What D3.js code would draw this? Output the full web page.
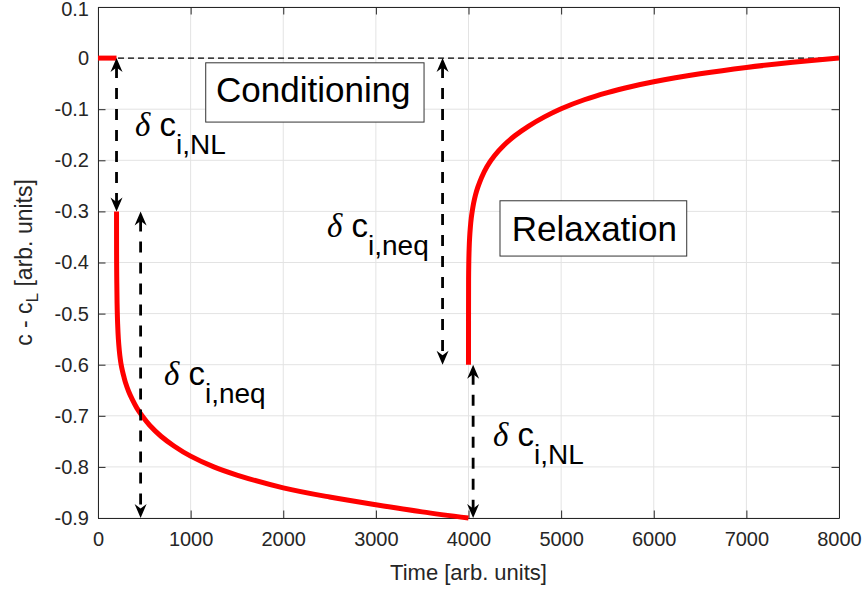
<!DOCTYPE html>
<html><head><meta charset="utf-8">
<script src="https://cdn.jsdelivr.net/npm/d3@7"></script>
<style>body{margin:0;background:#fff}svg{display:block}</style>
</head><body>
<svg id="c" width="865" height="597"></svg>
<script>
// ---- data ----
const xTicks = [0,1000,2000,3000,4000,5000,6000,7000,8000];
const yTicks = [0.1,0,-0.1,-0.2,-0.3,-0.4,-0.5,-0.6,-0.7,-0.8,-0.9];
const yTickLabels = ["0.1","0","-0.1","-0.2","-0.3","-0.4","-0.5","-0.6","-0.7","-0.8","-0.9"];
const baseT = [0,200];
const baseC = [0,0];
const condT = [200,201,203,206,212,220,230,240,250,265,280,300,330,370,420,480,560,680,820,1000,1250,1500,2000,2500,3000,3500,4000];
const condC = [-0.30,-0.40,-0.44,-0.48,-0.52,-0.55,-0.572,-0.588,-0.60,-0.613,-0.624,-0.637,-0.652,-0.668,-0.685,-0.701,-0.719,-0.740,-0.759,-0.779,-0.800,-0.816,-0.841,-0.859,-0.874,-0.888,-0.90];
const relaxT = [4000,4001,4002,4004,4007,4012,4020,4030,4040,4055,4075,4100,4140,4200,4280,4380,4500,4650,4820,5000,5250,5500,5750,6000,6500,7000,7500,8000];
const relaxC = [-0.60,-0.433,-0.414,-0.392,-0.373,-0.352,-0.331,-0.313,-0.30,-0.284,-0.268,-0.253,-0.234,-0.212,-0.191,-0.171,-0.152,-0.133,-0.115,-0.099,-0.0815,-0.0675,-0.056,-0.0463,-0.0308,-0.0183,-0.0083,0.0];
// arrows: [t, from, to]
const arrowT = [200, 460, 3720, 4050];
const arrowFrom = [0, -0.3, 0, -0.6];
const arrowTo = [-0.3, -0.9, -0.6, -0.9];
// delta labels
const deltaSub = ["i,NL","i,neq","i,neq","i,NL"];
const deltaT = [399, 712, 2472, 4265];
const deltaC = [-0.1526, -0.6398, -0.3502, -0.7591];
const boxText = ["Conditioning","Relaxation"];
const boxT = [1274, 4466];
const boxC = [-0.0855, -0.3575];
const boxT0 = [1163, 4340], boxT1 = [3520, 6356];
const boxC0 = [-0.0092, -0.2792], boxC1 = [-0.1252, -0.3874];

// ---- layout ----
const M = {l:98, r:839, t:7, b:518};
const svg = d3.select("#c");
const x = d3.scaleLinear().domain([0,8000]).range([M.l, M.r]);
const y = d3.scaleLinear().domain([-0.9,0.1]).range([M.b, M.t]);
const axisCol = "#262626";
const sans = "'Liberation Sans', Arial, Helvetica, sans-serif";

// grid
const g = svg.append("g");
g.selectAll(".gx").data(xTicks).join("line")
  .attr("x1", d=>x(d)).attr("x2", d=>x(d)).attr("y1", M.t).attr("y2", M.b)
  .attr("stroke", "#e3e3e3").attr("stroke-width", 1);
g.selectAll(".gy").data(yTicks).join("line")
  .attr("x1", M.l).attr("x2", M.r).attr("y1", d=>y(d)).attr("y2", d=>y(d))
  .attr("stroke", "#e3e3e3").attr("stroke-width", 1);

// axes via d3 axis
const tl = 7.5;
const ax = svg.append("g").attr("transform", `translate(0,${M.b})`)
  .call(d3.axisBottom(x).tickValues(xTicks).tickSizeInner(-tl).tickSizeOuter(0).tickPadding(14).tickFormat(d3.format("d")));
const axT = svg.append("g").attr("transform", `translate(0,${M.t})`)
  .call(d3.axisTop(x).tickValues(xTicks).tickSizeInner(-tl).tickSizeOuter(0).tickFormat(""));
const ay = svg.append("g").attr("transform", `translate(${M.l},0)`)
  .call(d3.axisLeft(y).tickValues(yTicks).tickSizeInner(-tl).tickSizeOuter(0).tickPadding(9).tickFormat((d,i)=>yTickLabels[i]));
const ayR = svg.append("g").attr("transform", `translate(${M.r},0)`)
  .call(d3.axisRight(y).tickValues(yTicks).tickSizeInner(-tl).tickSizeOuter(0).tickFormat(""));
[ax,axT,ay,ayR].forEach(a=>{
  a.select(".domain").attr("stroke", axisCol).attr("stroke-width", 1);
  a.selectAll(".tick line").attr("stroke", axisCol).attr("stroke-width", 1);
  a.selectAll("text").attr("fill", axisCol).style("font-family", sans).style("font-size", "20px");
});
ax.selectAll(".tick text").attr("dy", "0.71em");
ay.selectAll(".tick text").filter((d,i)=>i===0).attr("dy", "0.4em");

// zero dashed line
svg.append("line").attr("x1", x(0)).attr("x2", x(8000)).attr("y1", y(0)).attr("y2", y(0))
  .attr("stroke", "#000").attr("stroke-width", 1.2).attr("stroke-dasharray", "6,4");

// curves
const lineX = d3.line().x(d=>x(d[0])).y(d=>y(d[1])).curve(d3.curveCatmullRom.alpha(0.5));
[[baseT,baseC],[condT,condC],[relaxT,relaxC]].forEach(([T,C])=>{
  svg.append("path").datum(T.map((t,i)=>[t,C[i]])).attr("d", lineX)
    .attr("fill","none").attr("stroke","#ff0000").attr("stroke-width",5).attr("stroke-linejoin","round");
});

// arrows
function head(px, py, dir){ // dir = -1 up, +1 down
  const L = 14, W = 6, N = 9.5;
  return `M${px},${py} L${px-W},${py-dir*L} L${px},${py-dir*N} L${px+W},${py-dir*L} Z`;
}
arrowT.forEach((t,i)=>{
  const px = x(t), y1 = y(arrowFrom[i]), y2 = y(arrowTo[i]);
  svg.append("line").attr("x1",px).attr("x2",px).attr("y1",y1+9).attr("y2",y2-9)
    .attr("stroke","#000").attr("stroke-width",2.8).attr("stroke-dasharray","11,10");
  svg.append("path").attr("d", head(px,y1,-1)).attr("fill","#000");
  svg.append("path").attr("d", head(px,y2,1)).attr("fill","#000");
});

// delta labels
deltaSub.forEach((s,i)=>{
  const t = svg.append("text").attr("x", x(deltaT[i])).attr("y", y(deltaC[i]))
    .style("font-family", sans).style("font-size","33px").attr("fill","#000");
  t.append("tspan").text("δ").style("font-family","'Liberation Serif','DejaVu Serif',serif").style("font-style","italic");
  t.append("tspan").text(" c");
  t.append("tspan").text(s).attr("dy", 18).style("font-size","28px");
});

// boxed labels
boxText.forEach((s,i)=>{
  svg.append("rect").attr("x", x(boxT0[i])).attr("y", y(boxC0[i]))
    .attr("width", x(boxT1[i])-x(boxT0[i])).attr("height", y(boxC1[i])-y(boxC0[i]))
    .attr("fill","#fff").attr("stroke","#333").attr("stroke-width",1);
  svg.append("text").attr("x", x(boxT[i])).attr("y", y(boxC[i])).text(s)
    .style("font-family", sans).style("font-size","35px").attr("fill","#000");
});

// axis labels
svg.append("text").attr("x", (M.l+M.r)/2).attr("y", 580).attr("text-anchor","middle")
  .style("font-family", sans).style("font-size","22px").attr("fill", axisCol).text("Time [arb. units]");
const yl = svg.append("text").attr("transform", `translate(32,${(M.t+M.b)/2}) rotate(-90)`).attr("text-anchor","middle")
  .style("font-family", sans).style("font-size","23px").attr("fill", axisCol);
yl.append("tspan").text("c - c");
yl.append("tspan").text("L").attr("dy", 6).style("font-size","17px");
yl.append("tspan").text(" [arb. units]").attr("dy", -6);
</script>
</body></html>
